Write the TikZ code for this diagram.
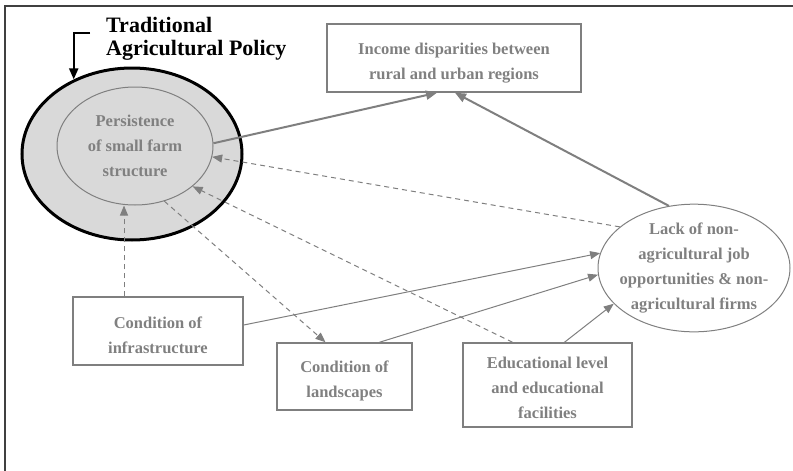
\documentclass[tikz,border=0pt]{standalone}
\usepackage{fontspec}
\setmainfont{Liberation Serif}
\usetikzlibrary{shapes.geometric, arrows.meta}
\definecolor{txtgray}{RGB}{128,128,128}
\definecolor{linegray}{RGB}{127,127,127}
\definecolor{fillgray}{RGB}{217,217,217}
\definecolor{framegray}{RGB}{64,64,64}
\newcommand{\boxfont}{\fontsize{16.5}{25}\selectfont\bfseries}
\newcommand{\headfont}{\fontsize{22}{23}\selectfont\bfseries}
\tikzstyle{factor} = [rectangle, draw=linegray, line width=1.5pt, text=txtgray, font=\boxfont, align=center, inner sep=0pt, text height=46pt]
\tikzstyle{issue} = [ellipse, draw=linegray, line width=1pt, text=txtgray, font=\boxfont, align=center, inner sep=0pt]
\tikzstyle{policyring} = [ellipse, draw=black, line width=3pt, fill=fillgray, minimum width=220pt, minimum height=172pt, inner sep=0pt]
\tikzstyle{arrow} = [line width=2pt, draw=linegray, -{Triangle[length=11pt,width=9pt]}]
\tikzstyle{thinarrow} = [line width=1pt, draw=linegray, -{Triangle[length=10pt,width=8pt]}]
\tikzstyle{dasharrow} = [line width=1pt, draw=linegray, dash pattern=on 5pt off 4pt, -{Triangle[length=10pt,width=8pt]}]
\tikzstyle{blackarrow} = [line width=2pt, draw=black, -{Triangle[length=11pt,width=9pt]}]

\begin{document}
\begin{tikzpicture}[x=1pt, y=-1pt]
\useasboundingbox (0,0) rectangle (793,471);
\draw [framegray, line width=2pt] (5,471) -- (5,6) -- (793,6);

\node (outer) [policyring] at (132,154) {};
\node (pers) [issue, minimum width=156pt, minimum height=118pt] at (135,146) {Persistence\\of small farm\\structure};
\node (title) [anchor=north west, inner sep=0pt, font=\headfont, align=left] at (106,17) {Traditional\\Agricultural Policy};
\node (income) [factor, minimum width=254pt, minimum height=68pt] at (454,58) {Income disparities between\\rural and urban regions};
\node (lack) [issue, inner xsep=-10pt, minimum width=192pt, minimum height=125pt] at (694,268) {Lack of non-\\agricultural job\\opportunities \& non-\\agricultural firms};
\node (infra) [factor, minimum width=170pt, minimum height=68pt] at (158,331) {Condition of\\infrastructure};
\node (land) [factor, minimum width=135pt, minimum height=67pt] at (344.5,376.5) {Condition of\\landscapes};
\node (educ) [factor, text height=67pt, minimum width=169pt, minimum height=84pt] at (547.5,385) {Educational level\\and educational\\facilities};

\draw [blackarrow] ([xshift=-16pt,yshift=5.5pt]title.west) -| (outer.128);
\draw [arrow] (pers.2) -- ([xshift=-17pt]income.south);
\draw [arrow] (lack.112) -- ([xshift=1pt]income.south);
\draw [dasharrow] (lack.151) -- (pers.-8);
\draw [dasharrow] ([xshift=-35pt]educ.north) -- (pers.-35);
\draw [dasharrow] ([xshift=-34pt]infra.north) -- ([xshift=-34pt]infra.north |- pers.south);
\draw [dasharrow] (pers.-62) -- ([xshift=-19pt]land.north);
\draw [thinarrow] ([yshift=6pt]infra.east) -- (lack.171);
\draw [thinarrow] ([xshift=35pt]land.north) -- (lack.184);
\draw [thinarrow] ([xshift=17pt]educ.north) -- (lack.204);

\end{tikzpicture}
\end{document}
